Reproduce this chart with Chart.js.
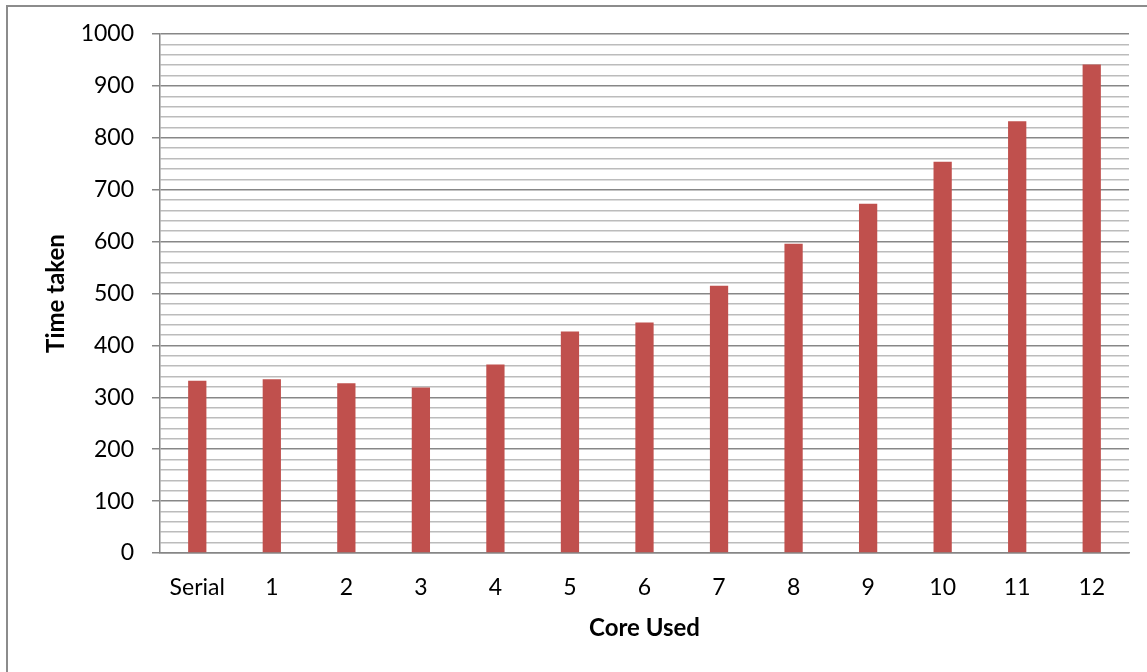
<!DOCTYPE html>
<html>
<head>
<meta charset="utf-8">
<script src="https://cdn.jsdelivr.net/npm/chart.js@4/dist/chart.umd.min.js"></script>
<style>
  html, body { margin: 0; padding: 0; background: #ffffff; }
  #wrap { position: relative; width: 1147px; height: 672px; overflow: hidden; }
  #frame {
    position: absolute; left: 6px; top: 5px; width: 1200px; height: 720px;
    border-left: 2px solid #8c8c8c; border-top: 2px solid #8c8c8c;
  }
  #c { position: absolute; left: 0; top: 0; }
</style>
</head>
<body>
<div id="wrap">
  <div id="frame"></div>
  <canvas id="c" width="1147" height="672"></canvas>
</div>
<script>
// Run time per configuration
const categories = ['Serial', '1', '2', '3', '4', '5', '6', '7', '8', '9', '10', '11', '12'];
const timeTaken = [332, 335, 327, 319, 363, 427, 444, 515, 596, 673, 754, 832, 941];
const yMin = 0;
const yMax = 1000;
const yLabelStep = 100;
const yGridStep = 20;

const FONT = 'Lato, "Noto Sans", sans-serif';
const isMajor = v => Math.round(v) % yLabelStep === 0;

new Chart(document.getElementById('c'), {
  type: 'bar',
  data: {
    labels: categories,
    datasets: [{
      label: 'Time taken',
      data: timeTaken,
      backgroundColor: '#C0504D',
      borderWidth: 0,
      categoryPercentage: 1.0,
      barPercentage: 0.245
    }]
  },
  options: {
    responsive: false,
    animation: false,
    devicePixelRatio: 1,
    layout: { padding: { top: 34, right: 18, bottom: 0, left: 0 } },
    plugins: {
      legend: { display: false },
      tooltip: { enabled: false }
    },
    scales: {
      x: {
        offset: true,
        grid: { display: false, drawTicks: false },
        border: { display: true, color: '#868686', width: 1.5 },
        ticks: {
          color: '#000000',
          font: { family: FONT, size: 23 },
          padding: 21,
          maxRotation: 0,
          autoSkip: false
        },
        title: {
          display: true,
          text: 'Core Used',
          color: '#000000',
          font: { family: FONT, size: 24, weight: 'bold' },
          padding: { top: 0, bottom: 29 }
        },
        afterFit: s => { s.height = 672 - 553; }
      },
      y: {
        min: yMin,
        max: yMax,
        grid: {
          color: ctx => isMajor(ctx.tick ? ctx.tick.value : 0) ? '#878787' : '#bcbcbc',
          tickColor: ctx => isMajor(ctx.tick ? ctx.tick.value : 0) ? '#878787' : 'rgba(0,0,0,0)',
          lineWidth: 1.5,
          tickLength: 8
        },
        border: { display: true, color: '#868686', width: 1.5 },
        ticks: {
          stepSize: yGridStep,
          autoSkip: false,
          color: '#000000',
          font: { family: FONT, size: 23 },
          padding: 18,
          callback: v => isMajor(v) ? String(v) : ''
        },
        title: {
          display: true,
          text: 'Time taken',
          color: '#000000',
          font: { family: FONT, size: 24, weight: 'bold' },
          padding: { top: 42, bottom: 0 }
        },
        afterFit: s => { s.width = 160; }
      }
    }
  }
});
</script>
</body>
</html>
